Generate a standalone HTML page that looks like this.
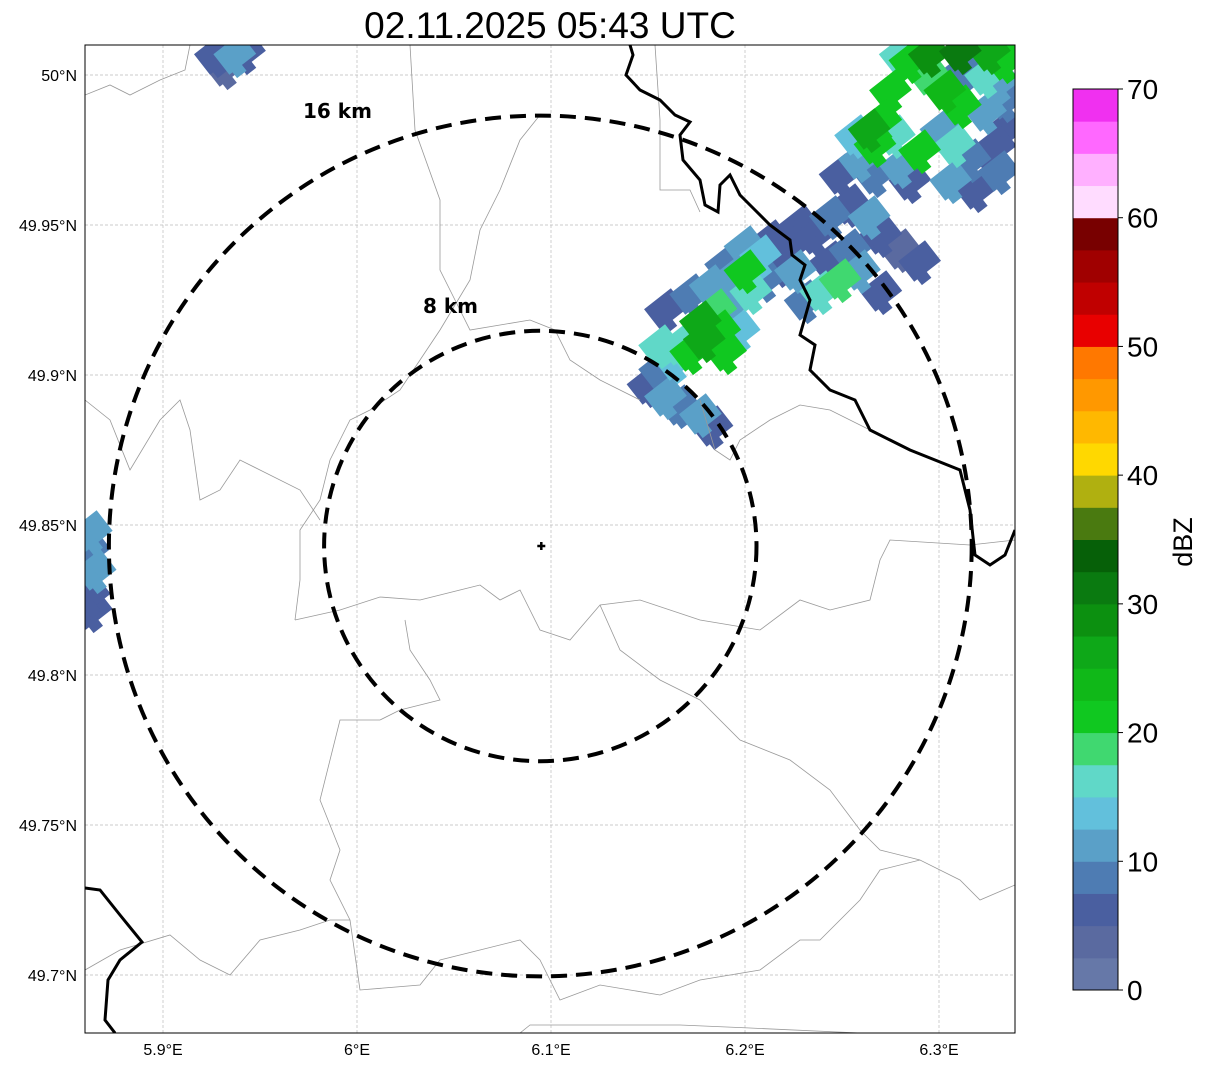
<!DOCTYPE html>
<html><head><meta charset="utf-8"><style>
html,body{margin:0;padding:0;background:#fff;}
svg{display:block;font-family:"Liberation Sans",sans-serif;}
</style></head><body>
<svg id="chart" width="1207" height="1069" viewBox="0 0 1207 1069">
<defs><clipPath id="mapclip"><rect x="85" y="45" width="930" height="988"/></clipPath></defs>
<text x="550" y="38" text-anchor="middle" font-size="37">02.11.2025 05:43 UTC</text>
<g id="map" clip-path="url(#mapclip)">
 <g id="grid"></g>
 <g id="echoes"></g>
 <g fill="none" stroke="#999" stroke-width="0.8">
  <path d="M295,620 L340,610 380,597 420,600 460,590 480,585 500,600 520,590 540,630 570,640 600,605 640,600 700,620 760,630 800,600 830,610 870,600 880,560 890,540 970,545 1015,540"/>
  <path d="M540,115 L520,140 500,190 480,230 470,280 440,330 420,360 400,390 370,410 350,420 330,460 320,500 300,530 300,580 295,620"/>
  <path d="M410,45 L415,130 440,200 440,270 455,300 470,330 530,320 555,330 570,360 600,380 640,400"/>
  <path d="M85,95 L110,85 130,95 160,80 185,70 190,45"/>
  <path d="M85,400 L110,420 130,470 160,420 180,400 190,430 200,500 220,490 240,460 260,470 300,490 320,520"/>
  <path d="M405,620 L410,650 430,680 440,700 400,710 380,720 340,720 330,760 320,800 340,850 330,880 350,920 360,990 420,985 440,960 520,940 540,960 560,1000 600,985 660,995 700,980 760,970 800,940 820,940 860,900 880,870 920,860 960,880 980,900 1015,885"/>
  <path d="M85,970 L120,950 170,935 200,960 230,975 260,940 300,930 330,920 350,920"/>
  <path d="M600,605 L620,650 660,680 700,700 740,740 790,760 830,790 860,830 880,850 920,860"/>
  <path d="M700,400 L715,450 730,460 740,440 770,420 800,405 830,410 870,430"/>
  <path d="M520,1033 L530,1025 600,1025 680,1025 750,1028 860,1033"/>
  <path d="M655,45 L660,120 660,190 690,190 700,212"/>
 </g>
 <g fill="none" stroke="#000" stroke-width="3">
  <path d="M630,45 L633,55 626,75 640,90 660,100 675,115 690,122 680,135 683,160 700,180 705,205 718,212 720,185 730,175 740,195 755,210 770,225 790,240 792,255 805,265 800,280 810,300 800,335 815,345 810,370 830,390 855,400 870,430 890,440 910,450 935,460 960,470 965,490 970,510 975,555 990,565 1005,555 1015,530"/>
  <path d="M85,888 L100,890 120,915 142,942 120,960 108,980 105,1020 115,1033"/>
 </g>
 <g id="rings" fill="none" stroke="#000" stroke-width="4" stroke-dasharray="16,9"></g>
</g>
<rect x="85" y="45" width="930" height="988" fill="none" stroke="#000" stroke-width="1"/>
<text x="303" y="118" font-size="20" font-weight="bold" font-family="DejaVu Sans, sans-serif">16 km</text>
<text x="423" y="313" font-size="20" font-weight="bold" font-family="DejaVu Sans, sans-serif">8 km</text>
<g id="axes" font-size="16"></g>
<g id="cbar"></g>
<text transform="translate(1192,542) rotate(-90)" text-anchor="middle" font-size="27">dBZ</text>
</svg>
<script>
const lonTicks=[5.9,6.0,6.1,6.2,6.3];
const lonLabels=["5.9°E","6°E","6.1°E","6.2°E","6.3°E"];
const latTicks=[50.0,49.95,49.9,49.85,49.8,49.75,49.7];
const latLabels=["50°N","49.95°N","49.9°N","49.85°N","49.8°N","49.75°N","49.7°N"];
const radarLon=6.095, radarLat=49.843;
const ringKm=[8,16];
const cbLevels=[0,10,20,30,40,50,60,70];
const cbColors=["#6678a8","#5a6aa0","#4a5fa0","#4e7cb3","#5aa0c8","#62c0dc","#60d8c8","#40d870","#10c820","#10b818","#0ea818","#0c9010","#0a7a10","#066008","#4a7a10","#b0b010","#ffd800","#ffb800","#ff9800","#ff7800","#e80000","#c00000","#a00000","#780000","#ffdcff","#ffb0ff","#ff68ff","#f030f0"];
const cellLon=[6.150,6.159,6.166,6.177,6.183,6.156,6.164,6.172,6.179,6.187,6.177,6.185,6.195,6.203,6.210,6.218,6.208,6.200,6.192,6.166,6.159,6.172,6.182,6.190,6.200,6.213,6.223,6.226,6.231,6.239,6.249,6.244,6.254,6.236,6.228,6.244,6.254,6.264,6.270,6.280,6.290,6.259,6.270,6.156,6.190,6.197,
6.249,6.259,6.267,6.277,6.290,6.301,6.308,6.316,6.326,6.334,6.334,6.324,6.311,6.303,6.295,6.285,6.295,6.311,6.326,6.334,6.324,6.313,6.331,6.280,6.267,6.285,6.319,6.275,6.280,6.306,6.331,6.257,6.264,6.270,
5.927,5.937,5.932,5.942,5.863,5.862,5.865,5.862,5.863];
const cellLat=[49.897,49.893,49.890,49.887,49.883,49.902,49.905,49.908,49.912,49.915,49.918,49.922,49.925,49.928,49.932,49.937,49.940,49.935,49.932,49.910,49.922,49.927,49.930,49.937,49.943,49.945,49.943,49.935,49.925,49.928,49.932,49.938,49.942,49.947,49.950,49.953,49.957,49.953,49.947,49.942,49.938,49.935,49.928,49.910,49.908,49.915,
49.967,49.972,49.977,49.980,49.975,49.982,49.977,49.972,49.975,49.982,49.992,49.988,49.990,49.995,50.000,50.005,50.007,50.008,50.008,50.005,50.000,50.002,49.998,49.970,49.967,49.965,49.962,49.995,50.007,49.965,49.968,49.980,49.982,49.985,
50.007,50.007,50.003,50.008,49.848,49.842,49.835,49.827,49.822];
const cellDbz=[5,12,8,10,6,8,14,22,27,20,25,18,12,16,8,6,14,20,10,16,6,8,12,8,10,5,6,12,8,15,18,6,8,6,5,8,6,10,6,4,5,12,6,16,20,14,
5,10,22,15,20,10,16,8,6,5,8,12,20,24,18,22,28,30,25,20,16,8,10,12,8,6,6,20,16,10,8,14,25,20,
6,10,4,6,10,8,12,6,5];
const NS="http://www.w3.org/2000/svg";
const x0=85,x1=1015,y0=45,y1=1033;
function xs(lon){return 357+(lon-6.0)*1940;}
function ys(lat){return 525-(lat-49.85)*3000;}
function mk(tag,attrs,parent){const e=document.createElementNS(NS,tag);for(const k in attrs)e.setAttribute(k,attrs[k]);parent.appendChild(e);return e;}
const grid=document.getElementById('grid'),axes=document.getElementById('axes');
lonTicks.forEach((v,i)=>{const x=xs(v);
 const l=mk('line',{x1:x,x2:x,y1:y0,y2:y1,stroke:'#bbb','stroke-width':0.7,'stroke-dasharray':'3,2'},grid);
 
 
 const t=mk('text',{x:x,y:1055,'text-anchor':'middle'},axes);t.textContent=lonLabels[i];
 
 
});
latTicks.forEach((v,i)=>{const y=ys(v);
 const l=mk('line',{x1:x0,x2:x1,y1:y,y2:y,stroke:'#bbb','stroke-width':0.7,'stroke-dasharray':'3,2'},grid);
 
 
 const t=mk('text',{x:77,y:y+6,'text-anchor':'end'},axes);t.textContent=latLabels[i];
 
 
});
function colorFor(d){let i=Math.floor(d/2.5);if(i<0)i=0;if(i>27)i=27;return cbColors[i];}
const ech=document.getElementById('echoes');
const order=cellDbz.map((d,i)=>i).sort((a,b)=>cellDbz[a]-cellDbz[b]);
order.forEach(i=>{const x=xs(cellLon[i]),y=ys(cellLat[i]);
 const r=mk('rect',{x:x-17,y:y-13,width:34,height:26,fill:colorFor(cellDbz[i]),transform:`rotate(-38 ${x} ${y})`},ech);
 
 
 const r2=mk('rect',{x:x-6,y:y-16,width:12,height:32,fill:colorFor(cellDbz[i]),transform:`rotate(-38 ${x+10} ${y+8})`},ech);
 
 
});
const rings=document.getElementById('rings');
const cx=xs(radarLon),cy=ys(radarLat);
ringKm.forEach(k=>{const r=k*26.9;
 const c=mk('ellipse',{cx:cx-1,cy:cy,rx:r+1,ry:r},rings);
 
 
});
const mark=mk('path',{d:`M${cx-4},${cy} H${cx+4} M${cx},${cy-4} V${cy+4}`,stroke:'#000','stroke-width':2.5},document.getElementById('map'));


const cb=document.getElementById('cbar');
const cbx=1073,cbw=45,cbTop=89,cbBot=990,cbMax=70;
function cby(v){return cbBot-(v/cbMax)*(cbBot-cbTop);}
cbColors.forEach((c,i)=>{const a=cby(i*2.5),b=cby((i+1)*2.5);
 const r=mk('rect',{x:cbx,y:b,width:cbw,height:a-b+0.5,fill:c},cb);
 
 
});
mk('rect',{x:cbx,y:cbTop,width:cbw,height:cbBot-cbTop,fill:'none',stroke:'#000','stroke-width':1},cb);
cbLevels.forEach(v=>{const y=cby(v);
 mk('line',{x1:cbx+cbw,x2:cbx+cbw+5,y1:y,y2:y,stroke:'#000'},cb);
 const t=mk('text',{x:1127,y:y+10,'font-size':28},cb);t.textContent=v;
 
 
});
</script>
</body></html>
